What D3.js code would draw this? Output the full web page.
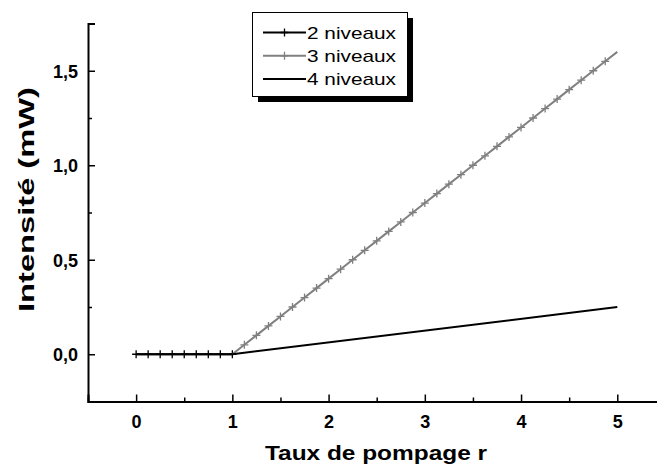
<!DOCTYPE html>
<html>
<head>
<meta charset="utf-8">
<script src="https://cdn.jsdelivr.net/npm/d3@7/dist/d3.min.js"></script>
<style>
html,body{margin:0;padding:0;background:#fff;}
svg{display:block;}
svg text{font-family:"Liberation Sans",Arial,sans-serif;}
</style>
</head>
<body>
<svg id="chart" width="657" height="468"></svg>
<script>
// ---- data ----
const seriesNames = ["2 niveaux", "3 niveaux", "4 niveaux"];
const x2 = [0, 0.125, 0.25, 0.375, 0.5, 0.625, 0.75, 0.875, 1];
const y2 = [0, 0, 0, 0, 0, 0, 0, 0, 0];
const x3 = [1, 1.125, 1.25, 1.375, 1.5, 1.625, 1.75, 1.875, 2, 2.125, 2.25, 2.375, 2.5, 2.625, 2.75, 2.875, 3,
            3.125, 3.25, 3.375, 3.5, 3.625, 3.75, 3.875, 4, 4.125, 4.25, 4.375, 4.5, 4.625, 4.75, 4.875, 5];
const y3 = [0, 0.05, 0.1, 0.15, 0.2, 0.25, 0.3, 0.35, 0.4, 0.45, 0.5, 0.55, 0.6, 0.65, 0.7, 0.75, 0.8,
            0.85, 0.9, 0.95, 1.0, 1.05, 1.1, 1.15, 1.2, 1.25, 1.3, 1.35, 1.4, 1.45, 1.5, 1.55, 1.6];
const x4 = [0, 1, 5];
const y4 = [0, 0, 0.25];
const xTicks = [0, 1, 2, 3, 4, 5];
const xMinor = [-0.5, 0.5, 1.5, 2.5, 3.5, 4.5, 5.5];
const yTicks = [0, 0.5, 1.0, 1.5];
const yMinor = [-0.25, 0.25, 0.75, 1.25, 1.75];
const xTitle = "Taux de pompage r";
const yTitle = "Intensité (mW)";

// ---- chart ----
const svg = d3.select("#chart");
const x = d3.scaleLinear().domain([-0.5, 5.5]).range([88, 665.4]);
const y = d3.scaleLinear().domain([-0.25, 1.75]).range([401.5, 23.5]);
const fmt = d => d3.format(".1f")(d).replace(".", ",");
const FF = '"Liberation Sans", Arial, sans-serif';

const axStroke = "#000";
// x axis
const gx = svg.append("g").attr("transform", `translate(0,${y(-0.25)})`);
gx.call(d3.axisBottom(x).tickValues(xTicks).tickSize(-7).tickPadding(11).tickFormat(d3.format("d")));
gx.append("g").call(d3.axisBottom(x).tickValues(xMinor).tickSize(-4).tickFormat(""))
  .select(".domain").remove();
gx.selectAll(".domain").attr("stroke-width", 2).attr("stroke", axStroke);
gx.selectAll(".tick line").attr("stroke-width", 1.5).attr("stroke", axStroke);
gx.selectAll(".tick text").style("font-size", "18px").style("font-weight", "bold")
  .style("font-family", FF).attr("fill", "#000").attr("dy", "0.85em");

// y axis
const gy = svg.append("g").attr("transform", `translate(${x(-0.5)},0)`);
gy.call(d3.axisLeft(y).tickValues(yTicks).tickSize(-7).tickPadding(10).tickFormat(fmt));
gy.append("g").call(d3.axisLeft(y).tickValues(yMinor).tickSize(-4).tickFormat(""))
  .select(".domain").remove();
gy.selectAll(".domain").attr("stroke-width", 2).attr("stroke", axStroke);
gy.selectAll(".tick line").attr("stroke-width", 1.5).attr("stroke", axStroke);
gy.selectAll(".tick text").style("font-size", "18px").style("font-weight", "bold")
  .style("font-family", FF).attr("fill", "#000").attr("dy", "0.35em");

// titles
svg.append("text").attr("x", 265).attr("y", 460)
  .style("font-size", "21px").style("font-weight", "bold").style("font-family", FF)
  .attr("textLength", 222).attr("lengthAdjust", "spacingAndGlyphs").text(xTitle);
svg.append("text").attr("transform", "translate(34,312) rotate(-90)")
  .attr("x", 0).attr("y", 0)
  .style("font-size", "22px").style("font-weight", "bold").style("font-family", FF)
  .attr("textLength", 225).attr("lengthAdjust", "spacingAndGlyphs").text(yTitle);

// series
const line = d3.line().x(d => x(d[0])).y(d => y(d[1]));
const d2 = x2.map((v, i) => [v, y2[i]]);
const d3s = x3.map((v, i) => [v, y3[i]]);
const d4 = x4.map((v, i) => [v, y4[i]]);

function plus(g, pts, color) {
  const m = 4;
  g.selectAll(null).data(pts).enter().append("path")
    .attr("d", d => `M${x(d[0]) - m},${y(d[1])}H${x(d[0]) + m}M${x(d[0])},${y(d[1]) - m}V${y(d[1]) + m}`)
    .attr("stroke", color).attr("stroke-width", 1.3).attr("fill", "none");
}

const gs = svg.append("g");
gs.append("path").datum(d2).attr("d", line).attr("fill", "none").attr("stroke", "#000").attr("stroke-width", 2);
plus(gs, d2, "#000");
gs.append("path").datum(d3s).attr("d", line).attr("fill", "none").attr("stroke", "#808080").attr("stroke-width", 2);
plus(gs, d3s.slice(1, -1), "#808080");
gs.append("path").datum(d4).attr("d", line).attr("fill", "none").attr("stroke", "#000").attr("stroke-width", 2);

// legend
const lg = svg.append("g");
lg.append("rect").attr("x", 258).attr("y", 18).attr("width", 155).attr("height", 84).attr("fill", "#000");
lg.append("rect").attr("x", 252.5).attr("y", 12.5).attr("width", 155).attr("height", 84)
  .attr("fill", "#fff").attr("stroke", "#000").attr("stroke-width", 1);
const legColors = ["#000", "#808080", "#000"];
const legMarker = [true, true, false];
seriesNames.forEach((name, i) => {
  const yy = 32.5 + i * 23.3;
  lg.append("line").attr("x1", 263).attr("x2", 306).attr("y1", yy).attr("y2", yy)
    .attr("stroke", legColors[i]).attr("stroke-width", 2);
  if (legMarker[i]) {
    lg.append("path").attr("d", `M${284.5 - 4},${yy}H${284.5 + 4}M${284.5},${yy - 4}V${yy + 4}`)
      .attr("stroke", legColors[i]).attr("stroke-width", 1.3);
  }
  lg.append("text").attr("x", 307).attr("y", yy).attr("dy", "0.36em")
    .style("font-size", "17px").style("font-family", FF)
    .attr("textLength", 89).attr("lengthAdjust", "spacingAndGlyphs")
    .attr("fill", "#000").text(name);
});
</script>
</body>
</html>
